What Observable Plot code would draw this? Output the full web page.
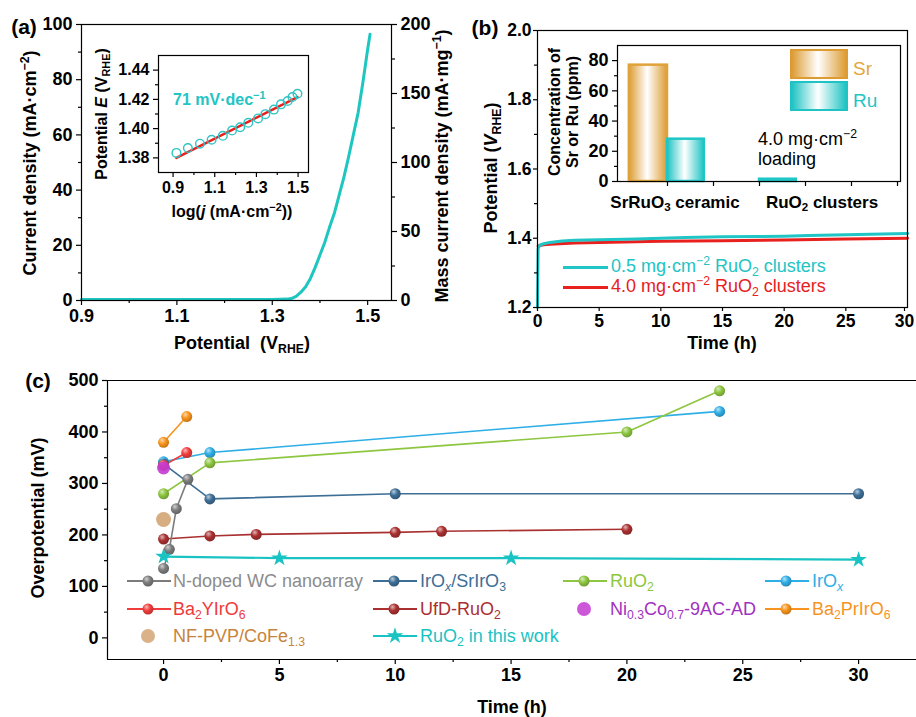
<!DOCTYPE html>
<html><head><meta charset="utf-8">
<script src="https://cdn.jsdelivr.net/npm/d3@7"></script>
<script src="https://cdn.jsdelivr.net/npm/@observablehq/plot@0.6"></script>
<style>
body{margin:0;background:#fff;}
#root{position:relative;width:916px;height:717px;overflow:hidden;background:#fff;font-family:"Liberation Sans",Arial,sans-serif;}
.t{position:absolute;white-space:nowrap;line-height:1;}
.t sub{font-size:0.68em;vertical-align:-0.32em;line-height:0;}
.t sup{font-size:0.68em;vertical-align:0.55em;line-height:0;}
.sw{position:absolute;}
</style></head><body>
<svg width="0" height="0" style="position:absolute"><defs id="gdefs"></defs></svg>
<div id="root"></div>
<script>
// ---------------- Panel (a): LSV curve ----------------
const lsvPotential = [0.90, 1.00, 1.10, 1.20, 1.30, 1.33, 1.34, 1.35, 1.36, 1.37, 1.38, 1.39, 1.40, 1.41, 1.42, 1.43, 1.44, 1.45, 1.46, 1.47, 1.48, 1.49, 1.50, 1.505];
const lsvCurrent   = [0.4, 0.4, 0.4, 0.4, 0.4, 0.5, 0.7, 1.5, 3.0, 5.0, 8.0, 12, 16.5, 21, 26.5, 31.5, 38, 44.5, 52, 60, 68, 79, 91, 96.5];
const aXTicks = [0.9, 1.1, 1.3, 1.5];
const aYTicks = [0, 20, 40, 60, 80, 100];
const aMassTicks = [0, 50, 100, 150, 200];
// Tafel inset
const tafelLogJ = [0.916, 0.971, 1.029, 1.085, 1.139, 1.183, 1.222, 1.261, 1.308, 1.343, 1.384, 1.418, 1.450, 1.473, 1.497];
const tafelE    = [1.3834, 1.3867, 1.3897, 1.3924, 1.3951, 1.3987, 1.4009, 1.4040, 1.4070, 1.4099, 1.4130, 1.4166, 1.4189, 1.4216, 1.4238];
const fitLogJ = [0.916, 1.497];
const fitE    = [1.380, 1.4216];
const tafelXTicks = [0.9, 1.1, 1.3, 1.5];
const tafelYTicks = [1.38, 1.40, 1.42, 1.44];

// ---------------- Panel (b): stability ----------------
const timeCyan = [0, 0.05, 0.2, 0.5, 1, 2, 3, 5, 8, 10, 12, 15, 18, 20, 22, 25, 28, 30];
const potCyan  = [1.20, 1.37, 1.381, 1.384, 1.388, 1.392, 1.394, 1.396, 1.398, 1.400, 1.402, 1.404, 1.405, 1.406, 1.408, 1.410, 1.412, 1.414];
const timeRed  = [0.05, 0.5, 1, 3, 5, 10, 15, 20, 25, 30];
const potRed   = [1.378, 1.381, 1.383, 1.386, 1.388, 1.391, 1.393, 1.395, 1.398, 1.400];
const bXTicks = [0, 5, 10, 15, 20, 25, 30];
const bYTicks = [1.2, 1.4, 1.6, 1.8, 2.0];
// dissolution inset
const inCategories = ["SrRuO3 ceramic", "RuO2 clusters"];
const srConc = [77, 0];
const ruConc = [28, 1.5];
const inYTicks = [0, 20, 40, 60, 80];

// ---------------- Panel (c): overpotential vs time ----------------
const nwcTime  = [0, 0.25, 0.55, 1.05];   const nwcEta  = [135, 172, 251, 308];
const irSrTime = [0, 2, 10, 30];          const irSrEta = [338, 270, 280, 280];
const ruo2Time = [0, 2, 20, 24];          const ruo2Eta = [280, 340, 400, 480];
const irOxTime = [0, 2, 24];              const irOxEta = [342, 360, 440];
const byiTime  = [0, 1];                  const byiEta  = [335, 360];
const ufdTime  = [0, 2, 4, 10, 12, 20];   const ufdEta  = [192, 198, 201, 205, 207, 211];
const nicoTime = [0];                     const nicoEta = [330];
const bpiTime  = [0, 1];                  const bpiEta  = [380, 430];
const nfTime   = [0];                     const nfEta   = [230];
const thisTime = [0, 5, 15, 30];          const thisEta = [158, 155, 155, 152];
const cXTicks = [0, 5, 10, 15, 20, 25, 30];
const cYTicks = [0, 100, 200, 300, 400, 500];

// =====================================================
const W = 916, H = 717;
const FONT = '"Liberation Sans", Arial, sans-serif';
const root = document.getElementById("root");
const pairs = (a, b) => a.map((v, i) => [v, b[i]]);
const mid = (arr) => arr.slice(0, -1).map((v, i) => (v + arr[i + 1]) / 2);

// gradients
const gdefs = document.getElementById("gdefs");
function sphere(id, color) {
  const c = d3.color(color);
  const light = d3.interpolateRgb(color, "#ffffff")(0.65);
  return `<radialGradient id="${id}" cx="0.4" cy="0.38" r="0.65" fx="0.36" fy="0.3">
    <stop offset="0" stop-color="${light}"/><stop offset="0.5" stop-color="${color}"/>
    <stop offset="1" stop-color="${c.darker(0.7).formatHex()}"/></radialGradient>`;
}
function barGrad(id, color) {
  return `<linearGradient id="${id}" x1="0" x2="1" y1="0" y2="0">
    <stop offset="0" stop-color="${color}"/><stop offset="0.48" stop-color="#ffffff"/>
    <stop offset="1" stop-color="${color}"/></linearGradient>`;
}

const seriesC = [
  {key: "irox", t: irOxTime, v: irOxEta, color: "#2eaee6", text: "#2eaee6"},
  {key: "ruo2", t: ruo2Time, v: ruo2Eta, color: "#8dc63f", text: "#8dc63f"},
  {key: "irsr", t: irSrTime, v: irSrEta, color: "#3d6e96", text: "#3d6e96"},
  {key: "ufd",  t: ufdTime,  v: ufdEta,  color: "#aa3030", text: "#aa3030"},
  {key: "nwc",  t: nwcTime,  v: nwcEta,  color: "#7c7c7c", text: "#8c8c8c"},
  {key: "byi",  t: byiTime,  v: byiEta,  color: "#f03c3c", text: "#ee3a3a"},
  {key: "bpi",  t: bpiTime,  v: bpiEta,  color: "#f7941d", text: "#f7941d"},
  {key: "nf",   t: nfTime,   v: nfEta,   color: "#d3a474", text: "#c8843c", flat: true, r: 7.5, noLine: true},
  {key: "nico", t: nicoTime, v: nicoEta, color: "#c33ad2", text: "#a032c0", flat: true, r: 6.5, noLine: true},
  {key: "this", t: thisTime, v: thisEta, color: "#19c3c3", text: "#19c3c3", star: true}
];
let defsHtml = "";
for (const s of seriesC) defsHtml += sphere("g-" + s.key, s.color);
defsHtml += barGrad("barSr", "#dd9c33") + barGrad("barRu", "#1fc3c3");
gdefs.innerHTML = defsHtml;

function plotSvg(frame, fontSize, opts) {
  const [l, t, r, b] = frame;
  const svg = Plot.plot({
    width: W, height: H,
    marginLeft: l, marginTop: t, marginRight: W - r, marginBottom: H - b,
    style: {position: "absolute", left: "0px", top: "0px", background: "transparent", overflow: "visible",
            fontFamily: FONT, fontSize: fontSize + "px", fontWeight: "bold", color: "#000", maxWidth: "none"},
    ...opts
  });
  root.appendChild(svg);
  return svg;
}
const blank = () => "";

// ---------- Panel (a) main ----------
plotSvg([81, 24, 391, 300], 18, {
  x: {domain: [0.9, 1.55], label: null},
  y: {domain: [0, 100], label: null},
  marks: [
    Plot.line(pairs(lsvPotential, lsvCurrent), {stroke: "#1ec6c0", strokeWidth: 3}),
    Plot.frame({stroke: "#000", strokeWidth: 1.2}),
    Plot.axisX(aXTicks, {tickSize: 5, tickPadding: 4, tickFormat: d3.format(".1f"), strokeWidth: 1.2}),
    Plot.axisX(mid(aXTicks), {tickSize: 3, tickFormat: blank, strokeWidth: 1.2}),
    Plot.axisY(aYTicks, {tickSize: 5, tickPadding: 4, strokeWidth: 1.2}),
    Plot.axisY(mid(aYTicks), {tickSize: 3, tickFormat: blank, strokeWidth: 1.2}),
    Plot.axisY(aMassTicks.map(d => d / 2), {anchor: "right", tickSize: 5, tickPadding: 4, tickFormat: d => String(d * 2), strokeWidth: 1.2}),
    Plot.axisY(mid(aMassTicks).map(d => d / 2), {anchor: "right", tickSize: 3, tickFormat: blank, strokeWidth: 1.2})
  ]
});
// ---------- Panel (a) inset ----------
plotSvg([158, 55, 308, 172], 16, {
  x: {domain: [0.83, 1.55], label: null},
  y: {domain: [1.37, 1.45], label: null},
  marks: [
    Plot.line(pairs(fitLogJ, fitE), {stroke: "#e8201e", strokeWidth: 2.5}),
    Plot.dot(pairs(tafelLogJ, tafelE), {r: 4.3, stroke: "#2ec4c4", strokeWidth: 1.4, fill: "none"}),
    Plot.frame({stroke: "#000", strokeWidth: 1.2}),
    Plot.axisX(tafelXTicks, {tickSize: 5, tickPadding: 4, tickFormat: d3.format(".1f"), strokeWidth: 1.2}),
    Plot.axisX(mid(tafelXTicks), {tickSize: 3, tickFormat: blank, strokeWidth: 1.2}),
    Plot.axisY(tafelYTicks, {tickSize: 5, tickPadding: 4, tickFormat: d3.format(".2f"), strokeWidth: 1.2}),
    Plot.axisY(mid(tafelYTicks), {tickSize: 3, tickFormat: blank, strokeWidth: 1.2})
  ]
});

// ---------- Panel (b) main ----------
plotSvg([537, 30, 907, 307], 17.5, {
  x: {domain: [0, 30], label: null},
  y: {domain: [1.2, 2.0], label: null},
  marks: [
    Plot.line(pairs(timeRed, potRed), {stroke: "#e8201e", strokeWidth: 3}),
    Plot.line(pairs(timeCyan, potCyan), {stroke: "#20c6c6", strokeWidth: 3}),
    Plot.frame({stroke: "#000", strokeWidth: 1.2}),
    Plot.axisX(bXTicks.slice(0, -1), {tickSize: 4, tickPadding: 3, strokeWidth: 1.2}),
    Plot.axisX(bXTicks.slice(-1), {tickSize: 4, tickPadding: 3, strokeWidth: 1.2, dx: -3}),
    Plot.axisY(bYTicks, {tickSize: 4, tickPadding: 2, tickFormat: d3.format(".1f"), strokeWidth: 1.2}),
    Plot.axisY(mid(bYTicks), {tickSize: 3, tickFormat: blank, strokeWidth: 1.2})
  ]
});
// ---------- Panel (b) inset ----------
const barsData = [];
inCategories.forEach((c, i) => {
  if (srConc[i] > 0) barsData.push({x1: 2 * i - 0.83, x2: 2 * i, y1: 0, y2: srConc[i], el: "Sr"});
  if (ruConc[i] > 0) barsData.push({x1: 2 * i, x2: 2 * i + 0.8, y1: 0, y2: ruConc[i], el: "Ru"});
});
plotSvg([617, 45, 900, 181], 18, {
  x: {domain: [-1.087, 5.065], label: null},
  y: {domain: [0, 90], label: null},
  marks: [
    Plot.rect(barsData.filter(d => d.el === "Sr"), {x1: "x1", x2: "x2", y1: "y1", y2: "y2", fill: "url(#barSr)", stroke: "#e0a33a", strokeWidth: 2.5}),
    Plot.rect(barsData.filter(d => d.el === "Ru"), {x1: "x1", x2: "x2", y1: "y1", y2: "y2", fill: "url(#barRu)", stroke: "#1fc6c6", strokeWidth: 2.5}),
    Plot.frame({stroke: "#000", strokeWidth: 1.2}),
    Plot.axisX([0, 1, 2, 3, 4, 5], {tickSize: 5, tickFormat: blank, strokeWidth: 1.2}),
    Plot.axisY(inYTicks, {tickSize: 5, tickPadding: 4, strokeWidth: 1.2}),
    Plot.axisY(mid(inYTicks), {tickSize: 3, tickFormat: blank, strokeWidth: 1.2})
  ]
});

// ---------- Panel (c) ----------
const cxDom = [-2.42, 32.5], cyDom = [-42, 500];
const cMarks = [
  Plot.ruleY([cyDom[1]], {stroke: "#000", strokeWidth: 1.2}),
  Plot.ruleY([cyDom[0]], {stroke: "#000", strokeWidth: 1.2}),
  Plot.ruleX([cxDom[0]], {stroke: "#000", strokeWidth: 1.2})
];
for (const s of seriesC) {
  if (!s.noLine) cMarks.push(Plot.line(pairs(s.t, s.v), {stroke: s.color, strokeWidth: s.star ? 2.2 : 1.6}));
}
for (const s of seriesC) {
  if (s.star) cMarks.push(Plot.dot(pairs(s.t, s.v), {symbol: "star", r: 5.2, fill: s.color}));
  else cMarks.push(Plot.dot(pairs(s.t, s.v), {r: s.r || 5.5, fill: s.flat ? s.color : `url(#g-${s.key})`, fillOpacity: s.flat ? 0.9 : 1}));
}
cMarks.push(
  Plot.axisX(cXTicks, {tickSize: 5, tickPadding: 4, strokeWidth: 1.2}),
  Plot.axisX(mid(cXTicks), {tickSize: 3, tickFormat: blank, strokeWidth: 1.2}),
  Plot.axisY(cYTicks, {tickSize: 5, tickPadding: 4, strokeWidth: 1.2}),
  Plot.axisY(mid(cYTicks), {tickSize: 3, tickFormat: blank, strokeWidth: 1.2})
);
plotSvg([107, 380, 916, 659], 18, {
  x: {domain: cxDom, label: null},
  y: {domain: cyDom, label: null},
  marks: cMarks
});

// ================= Text overlays =================
function txt(html, x, y, o = {}) {
  const d = document.createElement("div");
  d.className = "t";
  d.innerHTML = html;
  const size = o.size || 18, weight = o.weight || "bold", color = o.color || "#000";
  d.style.left = x + "px"; d.style.top = y + "px";
  d.style.fontSize = size + "px"; d.style.fontWeight = weight; d.style.color = color;
  const tx = o.anchor === "start" ? "0" : o.anchor === "end" ? "-100%" : "-50%";
  d.style.transform = `translate(${tx},-50%)` + (o.rotate ? ` rotate(${o.rotate}deg)` : "");
  root.appendChild(d);
  return d;
}
// Panel a
txt("(a)", 24, 26, {size: 21});
txt("Current density (mA·cm<sup>−2</sup>)", 30, 163, {rotate: -90});
txt("Mass current density (mA·mg<sup>−1</sup>)", 442, 166, {rotate: -90});
txt("Potential &nbsp;(V<sub>RHE</sub>)", 242, 343);
txt("Potential <i>E</i> (V<sub>RHE</sub>)", 102, 114, {size: 16, rotate: -90});
txt("log(<i>j</i> (mA·cm<sup>−2</sup>))", 232, 212, {size: 16});
txt("71 mV·dec<sup>−1</sup>", 173, 100, {size: 16, color: "#22c4c4", anchor: "start"});
// Panel b
txt("(b)", 485, 27, {size: 21});
txt("Potential (<i>V</i><sub>RHE</sub>)", 491, 168, {rotate: -90});
txt("Time (h)", 722, 343);
txt("Concentration of", 555, 112, {size: 16, rotate: -90});
txt("Sr or Ru (ppm)", 573, 112, {size: 16, rotate: -90});
txt("SrRuO<sub>3</sub> ceramic", 675, 202, {size: 17});
txt("RuO<sub>2</sub> clusters", 822, 202, {size: 17});
txt("4.0 mg·cm<sup>−2</sup>", 758, 139, {weight: "normal", anchor: "start"});
txt("loading", 758, 159, {weight: "normal", anchor: "start"});
txt("Sr", 853, 68, {weight: "normal", color: "#e4a63a", anchor: "start", size: 19});
txt("Ru", 853, 100, {weight: "normal", color: "#22c4c4", anchor: "start", size: 19});
// legend boxes of inset b
function box(x, y, w, h, color) {
  const d = document.createElement("div");
  d.className = "sw";
  d.style.cssText += `left:${x}px;top:${y}px;width:${w}px;height:${h}px;box-sizing:border-box;border:2.5px solid ${color};background:linear-gradient(to right, ${color}, #fff 48%, ${color});`;
  root.appendChild(d);
}
box(790, 49, 58, 30, "#dd9c33");
box(790, 81, 58, 30, "#1fc3c3");
function hline(x, y, w, color, sw) {
  const d = document.createElement("div");
  d.className = "sw";
  d.style.cssText += `left:${x}px;top:${y - sw / 2}px;width:${w}px;height:${sw}px;background:${color};`;
  root.appendChild(d);
}
hline(563, 267, 45, "#20c6c6", 3);
hline(563, 287, 45, "#e8201e", 3);
txt("0.5 mg·cm<sup>−2</sup> RuO<sub>2</sub> clusters", 611, 266, {weight: "normal", color: "#22c4c4", anchor: "start"});
txt("4.0 mg·cm<sup>−2</sup> RuO<sub>2</sub> clusters", 611, 286, {weight: "normal", color: "#e8201e", anchor: "start"});
// Panel c
txt("(c)", 38, 380, {size: 21});
txt("Overpotential (mV)", 38, 518, {rotate: -90});
txt("Time (h)", 512, 707);
const legendC = [
  {key: "nwc",  col: 0, row: 0, html: "N-doped WC nanoarray"},
  {key: "irsr", col: 1, row: 0, html: "IrO<sub><i>x</i></sub>/SrIrO<sub>3</sub>"},
  {key: "ruo2", col: 2, row: 0, html: "RuO<sub>2</sub>"},
  {key: "irox", col: 3, row: 0, html: "IrO<sub><i>x</i></sub>"},
  {key: "byi",  col: 0, row: 1, html: "Ba<sub>2</sub>YIrO<sub>6</sub>"},
  {key: "ufd",  col: 1, row: 1, html: "UfD-RuO<sub>2</sub>"},
  {key: "nico", col: 2, row: 1, html: "Ni<sub>0.3</sub>Co<sub>0.7</sub>-9AC-AD"},
  {key: "bpi",  col: 3, row: 1, html: "Ba<sub>2</sub>PrIrO<sub>6</sub>"},
  {key: "nf",   col: 0, row: 2, html: "NF-PVP/CoFe<sub>1.3</sub>"},
  {key: "this", col: 1, row: 2, html: "RuO<sub>2</sub> in this work"}
];
const colSw = [127, 373, 563, 765], colTx = [173, 420, 610, 812], rowY = [581, 609, 636];
for (const it of legendC) {
  const s = seriesC.find(d => d.key === it.key);
  const x = colSw[it.col], y = rowY[it.row];
  let inner = "";
  if (!s.noLine) inner += `<line x1="0" x2="44" y1="12" y2="12" stroke="${s.color}" stroke-width="${s.star ? 2.2 : 1.8}"/>`;
  if (s.star) inner += `<path transform="translate(22,12)" d="${d3.symbol(d3.symbolStar, Math.PI * 5.2 * 5.2)()}" fill="${s.color}"/>`;
  else inner += `<circle cx="21" cy="12" r="${s.flat ? 7 : 5.5}" fill="${s.flat ? s.color : `url(#g-${s.key})`}" fill-opacity="${s.flat ? 0.85 : 1}"/>`;
  const sv = document.createElementNS("http://www.w3.org/2000/svg", "svg");
  sv.setAttribute("width", 44); sv.setAttribute("height", 24);
  sv.setAttribute("class", "sw");
  sv.style.left = x + "px"; sv.style.top = (y - 12) + "px";
  sv.innerHTML = inner;
  root.appendChild(sv);
  txt(it.html, colTx[it.col], y, {weight: "normal", color: s.text, anchor: "start"});
}
</script></body></html>
